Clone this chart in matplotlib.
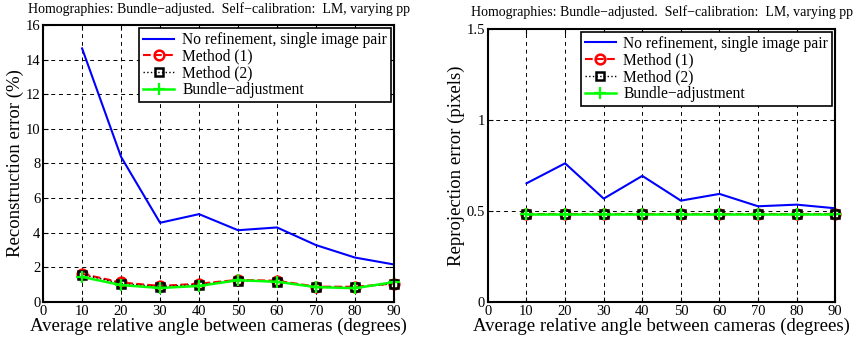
import matplotlib.pyplot as plt

plt.rcParams["font.family"] = ["Liberation Serif", "DejaVu Serif"]

angles = [10, 20, 30, 40, 50, 60, 70, 80, 90]

# reconstruction error (%)
recon_none = [14.65, 8.38, 4.57, 5.07, 4.14, 4.30, 3.28, 2.56, 2.16]
recon_m1 = [1.62, 1.12, 0.92, 1.05, 1.27, 1.22, 0.88, 0.87, 1.06]
recon_m2 = [1.58, 1.06, 0.88, 1.00, 1.22, 1.17, 0.85, 0.83, 1.05]
recon_ba = [1.44, 0.97, 0.80, 0.92, 1.25, 1.16, 0.85, 0.79, 1.14]

# reprojection error (pixels)
reproj_none = [0.651, 0.761, 0.567, 0.692, 0.556, 0.593, 0.525, 0.534, 0.514]
reproj_m1 = [0.485, 0.485, 0.485, 0.485, 0.485, 0.485, 0.485, 0.485, 0.485]
reproj_m2 = [0.483, 0.483, 0.483, 0.483, 0.483, 0.483, 0.483, 0.483, 0.483]
reproj_ba = [0.480, 0.480, 0.480, 0.480, 0.480, 0.480, 0.480, 0.480, 0.480]

x_ticks = [0, 10, 20, 30, 40, 50, 60, 70, 80, 90]
title = "Homographies: Bundle\u2212adjusted.  Self\u2212calibration:  LM, varying pp"
labels = ["No refinement, single image pair", "Method (1)", "Method (2)",
          "Bundle\u2212adjustment"]


def draw(ax, none, m1, m2, ba, ylim, yticks, ylabel):
    ax.plot(angles, none, color="#0000ff", lw=1.5, label=labels[0])
    ax.plot(angles, m1, color="#ff0000", lw=1.5, ls="--", marker="o", ms=7,
            mfc="none", mew=1.8, label=labels[1], clip_on=False)
    ax.plot(angles, m2, color="black", lw=1.0, ls=":", marker="s", ms=5.5,
            mfc="none", mew=1.8, label=labels[2], clip_on=False)
    ax.plot(angles, ba, color="#00ff00", lw=1.8, marker="+", ms=9, mew=1.6,
            label=labels[3], clip_on=False)
    ax.set_xlim(0, 90)
    ax.set_ylim(*ylim)
    ax.set_xticks(x_ticks)
    ax.set_yticks(yticks)
    ax.grid(True, color="black", ls=(0, (4, 4)), lw=0.7)
    ax.tick_params(direction="in", top=True, right=True, labelsize=10.5, pad=2)
    for s in ax.spines.values():
        s.set_linewidth(1.5)
    ax.set_xlabel("Average relative angle between cameras (degrees)",
                  fontsize=13.5, labelpad=0)
    ax.set_ylabel(ylabel, fontsize=13.5, labelpad=1)
    ax.set_title(title, fontsize=10, pad=9)
    leg = ax.legend(loc="upper right", fontsize=11.2, fancybox=False,
                    framealpha=1, edgecolor="black", borderpad=0.25,
                    labelspacing=0.05, handlelength=2.0, handletextpad=0.5,
                    numpoints=1, borderaxespad=0.2)
    leg.get_frame().set_linewidth(1.2)


fig = plt.figure(figsize=(8.62, 3.43), dpi=100)
ax1 = fig.add_axes([0.050, 0.120, 0.407, 0.807])
ax2 = fig.add_axes([0.566, 0.120, 0.403, 0.796])

draw(ax1, recon_none, recon_m1, recon_m2, recon_ba, (0, 16),
     [0, 2, 4, 6, 8, 10, 12, 14, 16], "Reconstruction error (%)")
draw(ax2, reproj_none, reproj_m1, reproj_m2, reproj_ba, (0, 1.5),
     [0, 0.5, 1, 1.5], "Reprojection error (pixels)")
ax2.set_yticklabels(["0", "0.5", "1", "1.5"])

fig.savefig("out.png", dpi=100)
